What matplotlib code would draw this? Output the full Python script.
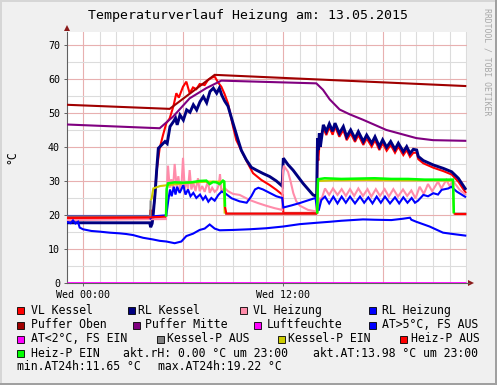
import numpy as np
import matplotlib
matplotlib.use('Agg')
import matplotlib.pyplot as plt
from matplotlib.patches import Rectangle, Polygon

# ---------------- data (time in hours since Wed 00:00, value in °C) ----------------
vl_kessel = [(-0.96, 19.0), (4.0, 19.0), (4.05, 21.5), (4.12, 21.0), (4.18, 19.5), (4.3, 25.0),
             (4.42, 33.0), (4.6, 39.6), (4.8, 43.5), (5.0, 47.0), (5.2, 48.4), (5.42, 51.9),
             (5.6, 55.8), (5.75, 54.5), (6.0, 57.7), (6.2, 59.2), (6.4, 55.8), (6.6, 57.5),
             (6.8, 57.0), (7.0, 58.5), (7.3, 58.2), (7.5, 59.7), (7.7, 60.3), (7.9, 60.7),
             (8.1, 59.0), (8.3, 57.7), (8.5, 55.5), (8.7, 52.8), (9.0, 46.0), (9.2, 42.0),
             (9.5, 39.0), (9.8, 36.0), (10.2, 32.3), (10.7, 30.3), (11.2, 28.8), (11.6, 27.4),
             (11.98, 25.9), (12.02, 20.6), (14.02, 20.6), (14.07, 38.0), (14.12, 36.0),
             (14.2, 42.0), (14.42, 45.5), (14.6, 43.5), (14.78, 45.8), (14.98, 43.6),
             (15.12, 46.0), (15.38, 43.0), (15.62, 45.0), (15.82, 42.0), (16.06, 44.0),
             (16.32, 41.5), (16.52, 43.5), (16.82, 40.6), (17.02, 42.5), (17.32, 40.1),
             (17.52, 42.0), (17.78, 39.1), (17.98, 41.1), (18.22, 38.9), (18.46, 40.6),
             (18.72, 38.3), (18.92, 40.1), (19.22, 37.6), (19.42, 39.1), (19.62, 37.1),
             (19.82, 38.3), (20.02, 38.3), (20.12, 36.4), (20.42, 35.2), (21.02, 33.9),
             (21.62, 32.9), (22.12, 31.9), (22.52, 29.8), (22.98, 26.4)]

rl_kessel = [(-0.96, 17.7), (4.0, 17.7), (4.06, 16.4), (4.15, 17.5), (4.2, 19.5), (4.32, 26.0),
             (4.42, 33.2), (4.52, 39.6), (4.72, 40.6), (4.92, 41.6), (5.05, 41.0), (5.22, 46.0),
             (5.42, 47.4), (5.55, 48.5), (5.65, 46.5), (5.82, 49.4), (6.02, 47.9), (6.22, 50.9),
             (6.42, 50.2), (6.62, 52.4), (6.82, 50.9), (7.02, 53.3), (7.22, 54.8), (7.42, 53.0),
             (7.62, 56.3), (7.82, 57.3), (8.02, 55.8), (8.18, 57.3), (8.32, 55.3), (8.5, 53.5),
             (8.7, 52.0), (9.0, 47.0), (9.3, 42.1), (9.5, 39.0), (9.8, 36.2), (10.1, 34.0),
             (10.4, 33.2), (10.8, 32.2), (11.2, 31.3), (11.6, 30.0), (11.95, 28.5), (12.02, 36.7),
             (12.3, 34.8), (12.6, 33.2), (13.2, 29.3), (13.8, 25.9), (14.02, 25.5), (14.07, 42.5),
             (14.12, 39.1), (14.18, 44.0), (14.24, 40.0), (14.42, 46.5), (14.6, 44.6),
             (14.78, 46.8), (14.98, 44.6), (15.12, 47.0), (15.38, 44.0), (15.62, 46.0),
             (15.82, 43.0), (16.06, 45.0), (16.32, 42.5), (16.52, 44.5), (16.82, 41.6),
             (17.02, 43.5), (17.32, 41.1), (17.52, 43.0), (17.78, 40.1), (17.98, 42.1),
             (18.22, 39.9), (18.46, 41.6), (18.72, 39.3), (18.92, 41.1), (19.22, 38.6),
             (19.42, 40.1), (19.62, 38.1), (19.82, 39.3), (20.02, 39.1), (20.12, 37.2),
             (20.42, 36.0), (21.02, 34.7), (21.62, 33.7), (22.12, 32.7), (22.52, 30.8),
             (22.98, 27.4)]

vl_heizung = [(-0.96, 18.5), (4.98, 18.8), (5.02, 27.0), (5.1, 34.5), (5.2, 28.0), (5.3, 30.5),
              (5.4, 27.5), (5.5, 35.0), (5.62, 28.0), (5.72, 31.4), (5.82, 27.5), (5.92, 29.5),
              (6.0, 36.8), (6.1, 27.8), (6.2, 30.0), (6.3, 27.5), (6.4, 33.2), (6.5, 27.5),
              (6.62, 29.5), (6.75, 27.0), (6.9, 30.8), (7.0, 27.0), (7.15, 28.5), (7.3, 26.8),
              (7.5, 30.0), (7.6, 26.5), (7.75, 28.0), (7.9, 26.8), (8.05, 27.5), (8.15, 29.0),
              (8.22, 32.0), (8.3, 27.0), (8.4, 27.5), (8.52, 27.8), (8.7, 27.0), (9.0, 26.2),
              (9.4, 25.9), (10.0, 24.4), (10.5, 23.5), (11.0, 22.7), (11.5, 22.0), (11.95, 21.5),
              (12.0, 33.0), (12.05, 34.5), (12.3, 32.7), (12.45, 30.0), (12.62, 26.4),
              (12.8, 24.0), (13.02, 22.7), (13.5, 21.5), (14.02, 21.0), (14.1, 21.0),
              (14.2, 25.0), (14.3, 24.5), (14.52, 27.8), (14.77, 25.9), (15.0, 27.8),
              (15.27, 25.9), (15.52, 27.6), (15.77, 25.6), (16.02, 27.6), (16.27, 25.6),
              (16.52, 27.8), (16.8, 25.6), (17.07, 27.6), (17.3, 25.4), (17.57, 27.6),
              (17.82, 25.6), (18.1, 27.6), (18.35, 25.4), (18.62, 27.6), (18.9, 25.4),
              (19.2, 27.5), (19.45, 25.6), (19.7, 27.2), (19.95, 24.9), (20.2, 28.3),
              (20.45, 26.2), (20.7, 29.1), (20.95, 27.0), (21.3, 29.8), (21.5, 27.8),
              (21.8, 30.3), (22.0, 28.5), (22.2, 30.0), (22.6, 27.4), (22.98, 25.9)]

rl_heizung = [(-0.96, 19.7), (4.0, 19.7), (4.05, 19.0), (4.2, 19.6), (5.0, 19.9), (5.12, 24.4),
              (5.22, 27.5), (5.32, 25.5), (5.45, 28.3), (5.55, 26.0), (5.65, 28.3), (5.8, 26.5),
              (6.02, 28.8), (6.15, 26.0), (6.3, 27.5), (6.45, 25.5), (6.62, 26.5), (6.8, 25.0),
              (7.02, 26.0), (7.2, 24.5), (7.35, 25.5), (7.52, 23.9), (7.7, 25.0), (7.9, 24.2),
              (8.12, 25.9), (8.32, 26.9), (8.52, 26.4), (8.92, 24.9), (9.4, 24.0), (9.82, 23.6),
              (10.1, 25.5), (10.32, 27.5), (10.52, 28.0), (10.8, 27.5), (11.2, 26.5),
              (11.6, 25.5), (11.95, 25.0), (12.02, 22.2), (12.5, 22.8), (13.0, 23.5),
              (13.5, 24.3), (13.95, 25.0), (14.05, 21.5), (14.15, 21.5), (14.3, 24.4),
              (14.52, 25.4), (14.77, 23.4), (15.02, 25.4), (15.27, 23.4), (15.52, 25.4),
              (15.77, 23.6), (16.02, 25.4), (16.32, 23.4), (16.62, 25.4), (16.87, 23.6),
              (17.12, 25.2), (17.37, 23.4), (17.62, 25.4), (17.87, 23.6), (18.12, 25.4),
              (18.42, 23.4), (18.72, 25.2), (18.97, 23.4), (19.22, 25.2), (19.47, 23.6),
              (19.72, 25.0), (19.92, 23.6), (20.1, 24.2), (20.42, 25.9), (20.7, 25.5),
              (21.02, 26.4), (21.3, 26.0), (21.52, 27.4), (21.92, 27.8), (22.1, 28.3),
              (22.42, 26.9), (22.98, 25.2)]

puffer_oben = [(-0.96, 52.4), (5.2, 51.2), (7.9, 61.2), (23.0, 57.9)]

puffer_mitte = [(-0.96, 46.6), (4.6, 45.5), (5.4, 48.9), (6.4, 54.3), (7.4, 57.3), (8.3, 59.5),
                (14.0, 58.7), (14.4, 56.8), (14.8, 54.0), (15.4, 51.0), (16.0, 49.6),
                (16.8, 48.0), (18.2, 45.0), (20.0, 42.6), (21.0, 42.0), (23.0, 41.8)]

luftfeuchte = [(-0.96, 0.0), (23.0, 0.0)]

aussen = [(-0.96, 18.0), (-0.75, 17.6), (-0.6, 18.4), (-0.45, 17.5), (-0.3, 18.0), (-0.2, 16.3),
          (0.0, 15.8), (0.5, 15.3), (1.0, 15.1), (1.6, 14.8), (2.2, 14.6), (2.6, 14.4),
          (3.0, 14.1), (3.6, 13.3), (4.2, 12.8), (4.6, 12.4), (5.0, 12.2), (5.5, 11.7),
          (5.9, 12.2), (6.2, 13.8), (6.6, 14.5), (7.0, 15.6), (7.3, 16.0), (7.6, 17.2),
          (7.9, 16.0), (8.2, 15.5), (9.0, 15.6), (10.0, 15.8), (11.0, 16.1), (12.0, 16.6),
          (13.0, 17.3), (14.0, 17.7), (14.8, 18.0), (15.5, 18.3), (16.8, 18.7), (17.5, 18.6),
          (18.5, 18.5), (19.2, 18.9), (19.62, 19.2), (19.7, 18.6), (20.0, 18.0), (20.8, 16.6),
          (21.6, 14.8), (22.2, 14.4), (23.0, 13.9)]

kessel_p_aus = [(-0.96, 19.6), (4.04, 19.6), (4.06, 24.3), (np.nan, np.nan),
                (8.52, 20.4), (14.05, 20.4), (np.nan, np.nan), (22.25, 20.4), (23.0, 20.4)]
kessel_p_ein = [(4.06, 24.3), (4.12, 24.9), (4.22, 27.8), (4.62, 28.5), (5.12, 28.8),
                (6.0, 29.3), (7.0, 29.7), (7.6, 29.8), (8.2, 29.8), (8.45, 29.8), (8.5, 20.4),
                (np.nan, np.nan), (14.05, 20.4), (14.1, 30.0), (15.0, 30.2), (17.0, 30.3),
                (19.0, 30.2), (21.0, 30.2), (22.2, 30.1), (22.25, 20.4)]
heiz_p_aus = [(-0.96, 19.2), (4.0, 19.3), (4.98, 19.5), (np.nan, np.nan),
              (8.52, 22.4), (8.6, 20.4), (14.05, 20.4), (np.nan, np.nan),
              (22.25, 20.5), (22.35, 20.3), (23.0, 20.3)]
heiz_p_ein = [(4.98, 19.5), (5.02, 27.6), (5.1, 29.3), (5.5, 29.6), (6.0, 29.5), (6.5, 29.6),
              (7.0, 30.0), (7.4, 30.1), (7.6, 29.1), (7.8, 29.7), (8.0, 29.6), (8.2, 29.1),
              (8.4, 30.1), (8.48, 29.8), (8.52, 22.4), (np.nan, np.nan),
              (14.05, 20.4), (14.1, 30.5), (14.5, 30.8), (15.5, 30.6), (16.5, 30.7),
              (17.5, 30.8), (18.5, 30.6), (19.5, 30.6), (20.5, 30.4), (21.5, 30.4),
              (22.2, 30.4), (22.25, 20.5)]
at_kalt = []  # AT<2°C, FS EIN: no values in this period

legend_rows = [
    [("VL Kessel", "#FF0000"), ("RL Kessel", "#000080"), ("VL Heizung", "#FF8CAA"), ("RL Heizung", "#0000FF")],
    [("Puffer Oben", "#A00000"), ("Puffer Mitte", "#800080"), ("Luftfeuchte", "#FF00FF"), ("AT>5°C, FS AUS", "#0000FF")],
    [("AT<2°C, FS EIN", "#FF00FF"), ("Kessel-P AUS", "#808080"), ("Kessel-P EIN", "#CCCC00"), ("Heiz-P AUS", "#FF0000")],
    [("Heiz-P EIN", "#00FF00")],
]
info_row4 = ["akt.rH: 0.00 °C um 23:00", "akt.AT:13.98 °C um 23:00"]
info_row5 = ["min.AT24h:11.65 °C", "max.AT24h:19.22 °C"]
title = "Temperaturverlauf Heizung am: 13.05.2015"
x_tick_pos = [0, 12]
x_tick_labels = ["Wed 00:00", "Wed 12:00"]
y_ticks = [0, 10, 20, 30, 40, 50, 60, 70]

# ---------------- layout ----------------
W, H = 497, 385
MONO = 'DejaVu Sans Mono'
fig = plt.figure(figsize=(W / 100, H / 100), dpi=100)
fig.patch.set_facecolor('#F0F0F0')

X0, X1, YB, YT = 67, 467, 283, 32
ax = fig.add_axes([X0 / W, 1 - YB / H, (X1 - X0) / W, (YB - YT) / H])
ax.set_xlim(-0.96, 23.04)
ax.set_ylim(0, 73.8)
ax.set_facecolor('white')

# grid
for h in range(0, 24):
    major = (h % 6 == 0)
    ax.axvline(h, color='#E8B0B0' if major else '#DCDCDC', lw=0.8, zorder=1)
for yv in range(5, 75, 5):
    major = (yv % 10 == 0)
    ax.axhline(yv, color='#E8B0B0' if major else '#DCDCDC', lw=0.8, zorder=1)

def draw(series, color, lw, z):
    if not series:
        return
    arr = np.array(series, dtype=float)
    ax.plot(arr[:, 0], arr[:, 1], color=color, lw=lw, zorder=z,
            solid_joinstyle='miter', solid_capstyle='butt')

LW = 1.5
draw(vl_kessel, '#FF0000', LW, 3)
draw(rl_kessel, '#000080', 2.1, 4)
draw(vl_heizung, '#FF8CAA', LW, 5)
draw(rl_heizung, '#0000FF', LW, 6)
draw(puffer_oben, '#A00000', LW, 7)
draw(puffer_mitte, '#800080', LW, 8)
draw(luftfeuchte, '#FF00FF', 2.0, 9)
draw(aussen, '#0000FF', LW, 10)
draw(at_kalt, '#FF00FF', LW, 11)
draw(kessel_p_aus, '#808080', LW, 12)
draw(kessel_p_ein, '#CCCC00', LW, 13)
draw(heiz_p_aus, '#FF0000', LW, 14)
draw(heiz_p_ein, '#00FF00', 1.8, 15)

for s in ['top', 'right']:
    ax.spines[s].set_visible(False)
for s in ['left', 'bottom']:
    ax.spines[s].set_color('#606060')
    ax.spines[s].set_linewidth(0.8)
    ax.spines[s].set_zorder(2)

ax.set_yticks(y_ticks)
ax.set_yticklabels([str(v) for v in y_ticks], family=MONO, fontsize=7.2)
ax.set_xticks(x_tick_pos)
ax.set_xticklabels(x_tick_labels, family=MONO, fontsize=7.2)
ax.tick_params(length=2, width=0.7, color='#606060', pad=3)

# ---------------- overlay in pixel coordinates ----------------
ov = fig.add_axes([0, 0, 1, 1], zorder=10)
ov.set_xlim(0, W)
ov.set_ylim(H, 0)
ov.axis('off')
ov.patch.set_alpha(0)

# frame
ov.add_patch(Rectangle((0, 0), W, 2, color='#D6D6D6', lw=0))
ov.add_patch(Rectangle((0, 0), 2, H, color='#D6D6D6', lw=0))
ov.add_patch(Rectangle((W - 2, 0), 2, H, color='#A0A0A0', lw=0))
ov.add_patch(Rectangle((0, H - 2), W, 2, color='#A0A0A0', lw=0))

# axis arrows
ov.add_patch(Polygon([(64, 31), (70, 31), (67, 25)], closed=True, color='#8B1A1A', lw=0))
ov.add_patch(Polygon([(468, 280), (468, 286), (474, 283)], closed=True, color='#8B1A1A', lw=0))
ov.plot([467, 469], [283, 283], color='#606060', lw=0.8)

ov.text(W / 2, 16, title, family=MONO, fontsize=9.5, ha='center', va='center')
ov.text(12, 157.5, "°C", family=MONO, fontsize=8.3, rotation=90, ha='center', va='center')
ov.text(487, 8, "RRDTOOL / TOBI OETIKER", family=MONO, fontsize=5.9, rotation=270,
        ha='center', va='top', color='#A8A8A8')

row_y = [310.7, 325.0, 339.0, 353.3, 366.7]
sq_x = [[20.3, 131.7, 243.3, 372.2],
        [20.3, 136.0, 257.3, 372.2],
        [20.3, 160.0, 281.7, 403.7],
        [20.3]]
txt_x = [[30.7, 138.3, 253.3, 381.7],
         [30.7, 145.0, 266.7, 381.7],
         [30.7, 166.7, 288.3, 410.7],
         [30.7]]
LFS = 8.3
for r, items in enumerate(legend_rows):
    y = row_y[r]
    for c, (label, col) in enumerate(items):
        sx = sq_x[r][c]
        ov.add_patch(Rectangle((sx - 3.5, y - 3.5), 7, 7, facecolor=col, edgecolor='black', lw=0.6))
        ov.text(txt_x[r][c], y, label, family=MONO, fontsize=LFS, ha='left', va='center')
ov.text(122.7, row_y[3], info_row4[0], family=MONO, fontsize=LFS, ha='left', va='center')
ov.text(312.7, row_y[3], info_row4[1], family=MONO, fontsize=LFS, ha='left', va='center')
ov.text(16.7, row_y[4], info_row5[0], family=MONO, fontsize=LFS, ha='left', va='center')
ov.text(158.3, row_y[4], info_row5[1], family=MONO, fontsize=LFS, ha='left', va='center')

fig.savefig('out.png', dpi=100, facecolor=fig.get_facecolor())
